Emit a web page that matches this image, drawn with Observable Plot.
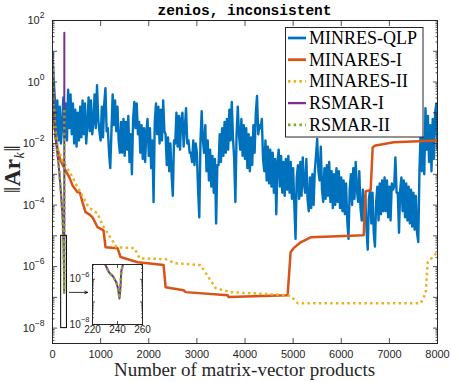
<!DOCTYPE html>
<html><head><meta charset="utf-8">
<script src="https://cdn.jsdelivr.net/npm/d3@7"></script>
<script src="https://cdn.jsdelivr.net/npm/@observablehq/plot@0.6"></script>
<style>
body{margin:0;background:#fff;}
#wrap{position:relative;width:451px;height:382px;overflow:hidden;background:#fff;}
#wrap > svg{position:absolute;}
.title{position:absolute;left:52px;width:385px;top:4px;text-align:center;font:bold 14.5px "Liberation Mono","Courier New",monospace;line-height:15px;color:#000;}
.xlab{position:absolute;left:40px;width:409px;top:361px;text-align:center;font:19px "Liberation Serif","Times New Roman",serif;line-height:18px;color:#262626;white-space:nowrap;}
.ylab{position:absolute;left:16px;top:169px;transform:translate(-50%,-50%) rotate(-90deg);font:23px "Liberation Serif","DejaVu Serif",serif;white-space:nowrap;color:#262626;line-height:22px;letter-spacing:0.5px;}
.ylab sub{font-size:14px;vertical-align:-4px;}
</style></head><body><div id="wrap"></div>
<script>
// ---------- text ----------
const titleText = "zenios, inconsistent";
const xLabelText = "Number of matrix-vector products";
// ---------- series ----------
const seriesNames = ["MINRES-QLP", "MINARES-I", "MINARES-II", "RSMAR-I", "RSMAR-II"];
const seriesColors = ["#0072BD", "#D95319", "#EDB120", "#7E2F8E", "#77AC30"];
const seriesDotted = [false, false, true, false, true];
// ---------- ticks ----------
const xTicks = [0, 1000, 2000, 3000, 4000, 5000, 6000, 7000, 8000];
const yLabelExps = [-8, -6, -4, -2, 0, 2];
const yDecadeExps = [-8, -7, -6, -5, -4, -3, -2, -1, 0, 1, 2];
const insetXTicks = [220, 240, 260];
const insetYLabelExps = [-8, -6];
const insetYDecadeExps = [-8, -7, -6];
// ---------- data ----------
// MINRES-QLP: log10 ||A r_k|| sampled every 25 matrix-vector products, 0..8000
const minresQlpStep = 25;
const minresQlpLog = [
0.95,0.1,-0.6,-1.7,-0.6,-1.9,-0.8,-2.0,-1.4,-0.5,-1.8,-0.7,-1.9,-0.25,-1.5,-0.4,-1.7,-0.7,-2.0,-0.9,
-2.1,-1.0,-1.9,-0.8,-1.8,-0.6,-1.7,-0.7,-2.0,-1.4,-0.5,-1.6,-0.6,-1.7,-1.3,-0.4,-1.5,-0.1,-1.2,-1.6,
-1.9,-0.8,-1.8,-0.7,-0.2,-1.6,-1.5,-2.3,-2.8,-1.6,-0.4,-1.4,-0.6,-1.6,-0.8,-1.9,-2.3,-1.3,-2.3,-1.2,
-2.4,-1.3,-2.2,-1.1,-2.6,-1.7,-3.0,-1.2,-0.65,-1.5,-0.7,-1.7,-1.3,-2.3,-1.4,-2.5,-1.5,-2.6,-1.6,-1.2,
-2.4,-1.5,-2.8,-1.9,-3.9,-1.3,-0.7,-1.7,-0.8,-2.0,-0.9,-1.9,-0.6,-1.6,-1.7,-2.7,-1.8,-2.9,-2.0,-3.0,
-3.7,-1.9,-2.0,-1.0,-2.1,-1.1,-2.2,-1.2,-1.0,-2.1,-1.5,-0.85,-2.0,-1.9,-2.3,-2.3,-2.6,-1.9,-2.7,-2.0,
-2.3,-3.5,-4.4,-1.9,-0.95,-1.9,-2.3,-1.4,-2.9,-1.9,-3.2,-2.2,-3.4,-2.4,-3.6,-2.5,-4.6,-2.7,-2.7,-1.7,
-2.6,-1.5,-2.4,-1.3,-2.3,-1.2,-2.2,-0.9,-1.9,-0.65,-1.8,-2.5,-3.9,-1.7,-0.8,-1.7,-2.2,-1.2,-2.4,-1.4,
-2.5,-1.5,-2.8,-1.7,-2.9,-1.8,-2.7,-1.4,-2.3,-1.0,-0.45,-1.7,-1.4,-1.5,-1.2,-2.5,-2.9,-1.9,-3.2,-2.1,
-3.3,-2.2,-3.4,-2.3,-3.6,-2.5,-4.3,-2.6,-2.2,-3.4,-2.4,-3.6,-2.6,-3.7,-2.5,-3.5,-2.4,-3.6,-2.6,-3.8,
-2.8,-4.0,-5.1,-3.1,-2.7,-3.8,-2.6,-3.7,-2.45,-3.3,-3.6,-2.5,-3.8,-4.2,-3.1,-4.1,-3.0,-4.0,-2.9,-2.4,
-1.85,-2.9,-3.2,-2.1,-3.5,-3.9,-2.8,-3.8,-2.7,-3.7,-2.6,-3.9,-2.9,-4.1,-3.0,-4.0,-2.8,-3.9,-2.9,-4.1,
-3.1,-4.2,-3.2,-4.3,-3.3,-4.5,-5.1,-3.5,-3.0,-4.0,-2.8,-3.8,-2.6,-3.5,-3.9,-2.9,-4.1,-4.5,-3.5,-4.6,
-3.7,-4.8,-5.45,-3.8,-3.5,-4.6,-3.6,-4.9,-5.35,-3.9,-3.4,-4.5,-3.3,-4.3,-3.2,-4.2,-3.1,-4.2,-3.2,-4.4,
-3.4,-4.5,-3.3,-3.5,-3.4,-2.45,-3.6,-3.6,-4.9,-3.5,-3.1,-4.2,-3.2,-4.4,-3.3,-4.5,-3.4,-4.6,-3.5,-4.7,
-3.6,-4.8,-3.7,-4.9,-5.2,-2.9,-1.6,-2.9,-1.8,-3.0,-0.85,-2.2,-1.1,-2.6,-1.4,-2.9,-1.2,-2.5,-1.0,-0.7,
-2.2
];
// other series: [matrix-vector products, log10 ||A r_k||]
const minaresI = [
[0,0.8],[15,-0.5],[40,-1.3],[62,-1.8],[110,-2.2],[166,-2.55],[270,-2.87],[350,-3.1],[416,-3.36],[520,-3.58],
[570,-3.6],[624,-3.91],[686,-4.23],[760,-4.3],[832,-4.40],[936,-4.72],[1060,-4.82],[1102,-5.37],[1351,-5.40],[1414,-5.69],
[1767,-5.86],[1975,-5.89],[2308,-5.95],[2350,-6.67],[2724,-6.77],[2765,-6.83],[3638,-6.93],[3660,-6.99],[4886,-6.93],[4948,-5.53],
[5010,-5.40],[5156,-5.21],[5364,-5.05],[6466,-4.98],[6507,-3.55],[6611,-3.52],[6653,-2.12],[6715,-2.06],[7089,-1.96],[8000,-1.90]
];
const minaresII = [
[0,0.8],[15,-0.4],[40,-1.2],[62,-1.57],[120,-2.2],[208,-2.55],[300,-2.8],[374,-2.97],[480,-3.3],[582,-3.58],
[748,-4.07],[936,-4.27],[1040,-4.66],[1268,-5.21],[1330,-5.37],[1705,-5.40],[1809,-5.73],[2350,-5.76],[2557,-5.89],[3077,-5.95],
[3389,-6.70],[3701,-6.83],[4886,-6.93],[4948,-6.96],[5094,-7.19],[7651,-7.19],[7755,-6.86],[7796,-5.86],[7900,-5.69],[8000,-5.53]
];
const rsmarI = [
[0,0.8],[20,-0.5],[40,-1.2],[62,-1.75],[100,-2.3],[140,-2.9],[180,-3.7],[210,-4.4],[230.4,-5.37],[233.1,-5.69],
[236.5,-5.88],[239.2,-6.15],[240.5,-6.43],[241.6,-6.85],[242.4,-6.34],[243,-5.65],[244.5,-5.32],[246,1.6]
];
const rsmarII = [
[0,0.8],[20,-0.5],[40,-1.2],[62,-1.75],[100,-2.3],[140,-2.9],[180,-3.7],[210,-4.4],[230.4,-5.37],[233.1,-5.69],
[236.5,-5.88],[239.2,-6.15],[240.5,-6.43],[241.6,-6.85],[242.4,-6.34],[243,-5.65],[244.5,-5.32],[246,-0.82]
];
// ---------- annotations ----------
const zoomBox = [{x1: 180, x2: 300, y1: 1e-8, y2: 1e-5}];
const insetArrow = [{x1: 350, x2: 730, y: 1.45e-7}];
const insetXDomain = [220, 260];
const insetYDomain = [1e-8, 4.5e-6];

// ---------- build ----------
const axisColor = "#262626";
const sans = "'Liberation Sans', Arial, Helvetica, sans-serif";
const toPts = arr => arr.map(([x, l]) => ({x, y: 10 ** l}));
const blue = minresQlpLog.map((l, i) => ({x: i * minresQlpStep, y: 10 ** l}));
const seriesData = [blue, toPts(minaresI), toPts(minaresII), toPts(rsmarI), toPts(rsmarII)];
const widths = [2.4, 2.5, 2.5, 2, 2.5];
const minorOf = exps => exps.flatMap(e => [2,3,4,5,6,7,8,9].map(m => m * 10 ** e));

function lineMarks(clip) {
  return seriesData.map((d, i) => Plot.line(d, {
    x: "x", y: "y", stroke: seriesColors[i], strokeWidth: widths[i], clip,
    strokeDasharray: seriesDotted[i] ? "2.5,3.2" : null,
    strokeLinecap: seriesDotted[i] ? "butt" : "round", strokeLinejoin: "round"
  }));
}
function expText(e) { return String(e).replace("-", "\u2212"); }
function yLabels(exps, gap, base, sup, negW, posW) {
  const out = [];
  for (const [grp, w] of [[exps.filter(e => e < 0), negW], [exps.filter(e => e >= 0), posW]]) {
    if (!grp.length) continue;
    out.push(Plot.text(grp, {y: e => 10 ** e, frameAnchor: "left", text: () => "10", textAnchor: "end", dx: -gap - w, fontSize: base, fill: axisColor}));
    out.push(Plot.text(grp, {y: e => 10 ** e, frameAnchor: "left", text: expText, textAnchor: "end", dx: -gap, dy: -5, fontSize: sup, fill: axisColor}));
  }
  return out;
}
function tickAxes(xt, yMaj, yMin, len, minLen) {
  return [
    Plot.axisX({anchor: "bottom", ticks: xt, tickSize: -len, fill: "none", stroke: axisColor, strokeWidth: 0.8}),
    Plot.axisX({anchor: "top", ticks: xt, tickSize: -len, fill: "none", stroke: axisColor, strokeWidth: 0.8}),
    Plot.axisY({anchor: "left", ticks: yMaj, tickSize: -len, fill: "none", stroke: axisColor, strokeWidth: 0.8}),
    Plot.axisY({anchor: "right", ticks: yMaj, tickSize: -len, fill: "none", stroke: axisColor, strokeWidth: 0.8}),
    Plot.axisY({anchor: "left", ticks: yMin, tickSize: -minLen, fill: "none", stroke: axisColor, strokeWidth: 0.8}),
    Plot.axisY({anchor: "right", ticks: yMin, tickSize: -minLen, fill: "none", stroke: axisColor, strokeWidth: 0.8})
  ];
}

const yMajor = yDecadeExps.map(e => 10 ** e);
const yMinor = minorOf([-9, ...yDecadeExps.slice(0, -1)]).filter(v => v >= 10 ** -8.5 && v <= 100);

const main = Plot.plot({
  width: 451, height: 382,
  marginTop: 20, marginRight: 14, marginBottom: 39, marginLeft: 52,
  x: {domain: [0, 8000]},
  y: {type: "log", domain: [10 ** -8.5, 100]},
  style: {fontFamily: sans, background: "transparent", color: axisColor},
  marks: [
    ...lineMarks(true),
    Plot.rect(zoomBox, {x1: "x1", x2: "x2", y1: "y1", y2: "y2", fill: "none", stroke: "#000", strokeWidth: 1}),
    Plot.arrow(insetArrow, {x1: "x1", x2: "x2", y1: "y", y2: "y", stroke: "#000", strokeWidth: 0.8, headLength: 6, headAngle: 50}),
    Plot.frame({stroke: axisColor, strokeWidth: 1}),
    ...tickAxes(xTicks, yMajor, yMinor, 5, 2.5),
    Plot.text(xTicks, {x: d => d, frameAnchor: "bottom", dy: 14, text: d => String(d), fontSize: 11, fill: axisColor}),
    ...yLabels(yLabelExps, 8, 11, 8.5, 9.5, 4.8)
  ]
});
const wrap = document.getElementById("wrap");
main.style.left = "0px"; main.style.top = "0px";
wrap.appendChild(main);

// ---------- inset ----------
const insetMinor = minorOf([-8, -7, -6]).filter(v => v >= insetYDomain[0] && v <= insetYDomain[1]);
const inset = Plot.plot({
  width: 84, height: 78,
  marginLeft: 30, marginRight: 4, marginTop: 4, marginBottom: 14,
  x: {domain: insetXDomain},
  y: {type: "log", domain: insetYDomain},
  style: {fontFamily: sans, background: "transparent", color: axisColor, overflow: "visible"},
  marks: [
    Plot.frame({fill: "white"}),
    ...lineMarks(true).slice(3),
    Plot.frame({stroke: axisColor, strokeWidth: 1}),
    ...tickAxes(insetXTicks, insetYDecadeExps.map(e => 10 ** e), insetMinor, 3, 1.8),
    Plot.text(insetXTicks, {x: d => d, frameAnchor: "bottom", dy: 8, text: d => String(d), fontSize: 10, fill: axisColor}),
    ...yLabels(insetYLabelExps, 3, 10, 7.5, 8.8, 4)
  ]
});
inset.style.left = "62px"; inset.style.top = "260px";
wrap.appendChild(inset);

// ---------- legend ----------
const lg = d3.create("svg").attr("width", 139).attr("height", 111)
  .style("position", "absolute").style("left", "285px").style("top", "27px");
lg.append("rect").attr("x", 0.5).attr("y", 0.5).attr("width", 137.5).attr("height", 109.5)
  .attr("fill", "white").attr("stroke", axisColor).attr("stroke-width", 1);
seriesNames.forEach((name, i) => {
  const cy = 11 + i * 21.7;
  lg.append("line").attr("x1", 3).attr("x2", 21).attr("y1", cy).attr("y2", cy)
    .attr("stroke", seriesColors[i]).attr("stroke-width", Math.min(widths[i], 2.5) + 0.3)
    .attr("stroke-dasharray", seriesDotted[i] ? "2.5,3.2" : null);
  lg.append("text").attr("x", 24).attr("y", cy + 6).text(name)
    .attr("font-family", "'Liberation Serif','Times New Roman',serif").attr("font-size", 18).attr("fill", "#000");
});
wrap.appendChild(lg.node());

// ---------- titles ----------
const t = document.createElement("div"); t.className = "title"; t.textContent = titleText; wrap.appendChild(t);
const xl = document.createElement("div"); xl.className = "xlab"; xl.textContent = xLabelText; wrap.appendChild(xl);
const yl = document.createElement("div"); yl.className = "ylab";
yl.innerHTML = "\u2016<b>Ar</b><sub><i>k</i></sub>\u2016"; wrap.appendChild(yl);
</script></body></html>
